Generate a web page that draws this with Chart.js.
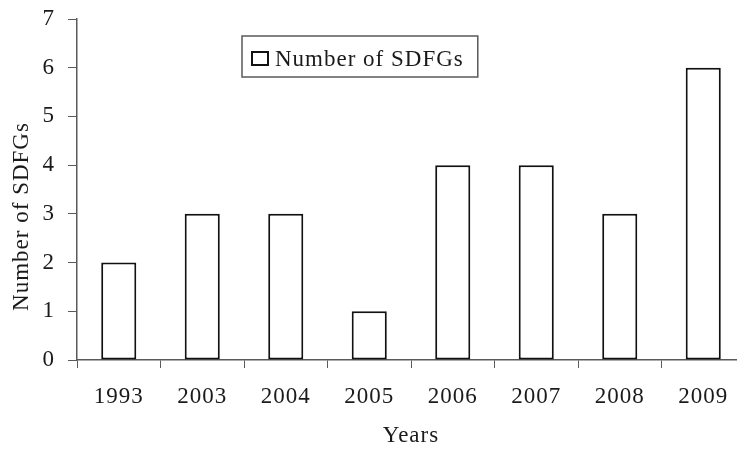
<!DOCTYPE html>
<html>
<head>
<meta charset="utf-8">
<script src="https://cdn.jsdelivr.net/npm/chart.js@4"></script>
<style>
  html, body { margin: 0; padding: 0; background: #fff; overflow: hidden; }
  #wrap { width: 745px; height: 451px; }
</style>
</head>
<body>
<div id="wrap"><canvas id="chart" width="745" height="451"></canvas></div>
<script>
// chart data
const years = ['1993', '2003', '2004', '2005', '2006', '2007', '2008', '2009'];
const sdfgCounts = [2, 3, 3, 1, 4, 4, 3, 6];
const yTickValues = [0, 1, 2, 3, 4, 5, 6, 7];
const seriesLabel = 'Number of SDFGs';
const xTitle = 'Years';
const yTitle = 'Number of SDFGs';

const FONT_FAMILY = "'Liberation Serif', 'Times New Roman', serif";
const FONT_SIZE = 23;
const SPACING = '1px';
const AXIS_COLOR = '#5a5a5a';
const TEXT_COLOR = '#1a1a1a';

// the original uses loosely spaced text
const letterSpacing = {
  id: 'letterSpacing',
  beforeUpdate(chart) { chart.ctx.letterSpacing = SPACING; },
  beforeDraw(chart) { chart.ctx.letterSpacing = SPACING; }
};

// legend sits inside the plot with a box round it
const boxedLegend = {
  id: 'boxedLegend',
  afterDraw(chart) {
    const { ctx, chartArea } = chart;
    const ds = chart.data.datasets[0];
    ctx.save();
    ctx.font = FONT_SIZE + 'px ' + FONT_FAMILY;
    ctx.letterSpacing = SPACING;
    const textW = ctx.measureText(ds.label).width;
    const left = chartArea.left + 165;
    const top = chartArea.top + 17;
    const w = 10 + 16 + 7 + textW + 14;
    const h = 41;
    ctx.strokeStyle = AXIS_COLOR;
    ctx.lineWidth = 1.5;
    ctx.strokeRect(left, top, w, h);
    // symbol
    ctx.fillStyle = ds.backgroundColor;
    ctx.strokeStyle = ds.borderColor;
    ctx.lineWidth = 2;
    ctx.fillRect(left + 10, top + 16, 16, 13);
    ctx.strokeRect(left + 10, top + 16, 16, 13);
    // text
    ctx.fillStyle = TEXT_COLOR;
    ctx.textBaseline = 'alphabetic';
    ctx.textAlign = 'left';
    ctx.fillText(ds.label, left + 33, top + 30);
    ctx.restore();
  }
};

const font = { family: FONT_FAMILY, size: FONT_SIZE };

const cfg = {
  type: 'bar',
  data: {
    labels: years,
    datasets: [{
      label: seriesLabel,
      data: sdfgCounts,
      backgroundColor: '#ffffff',
      borderColor: '#111111',
      borderWidth: 2,
      borderSkipped: false,
      barPercentage: 0.42,
      categoryPercentage: 1
    }]
  },
  options: {
    responsive: false,
    animation: false,
    layout: { padding: { top: 19, left: 0, right: 0, bottom: 0 } },
    plugins: {
      legend: { display: false },
      tooltip: { enabled: false }
    },
    scales: {
      x: {
        offset: true,
        grid: {
          offset: true,
          drawOnChartArea: false,
          drawTicks: true,
          tickLength: 8,
          color: AXIS_COLOR,
          lineWidth: 1
        },
        border: { display: true, color: AXIS_COLOR, width: 1.5 },
        ticks: { color: TEXT_COLOR, font: font, padding: 15, maxRotation: 0 },
        title: {
          display: true,
          text: xTitle,
          color: TEXT_COLOR,
          font: font,
          padding: { top: 8, bottom: 1 }
        },
        afterFit(scale) { scale.height = 91; }
      },
      y: {
        min: 0,
        max: 7,
        afterBuildTicks(scale) {
          scale.ticks = yTickValues.map(v => ({ value: v }));
        },
        grid: {
          drawOnChartArea: false,
          drawTicks: true,
          tickLength: 9,
          color: AXIS_COLOR,
          lineWidth: 1
        },
        border: { display: true, color: AXIS_COLOR, width: 1.5 },
        ticks: { color: TEXT_COLOR, font: font, padding: 13 },
        title: {
          display: true,
          // trailing spaces push the visible title a little lower, like the original
          text: yTitle + ' '.repeat(8),
          color: TEXT_COLOR,
          font: font,
          padding: { top: 8, bottom: 3 }
        },
        afterFit(scale) {
          scale.width = 77;
          scale.paddingTop = 0;
          scale.paddingBottom = 0;
        }
      }
    }
  },
  plugins: [letterSpacing, boxedLegend]
};

new Chart(document.getElementById('chart'), cfg);
</script>
</body>
</html>
